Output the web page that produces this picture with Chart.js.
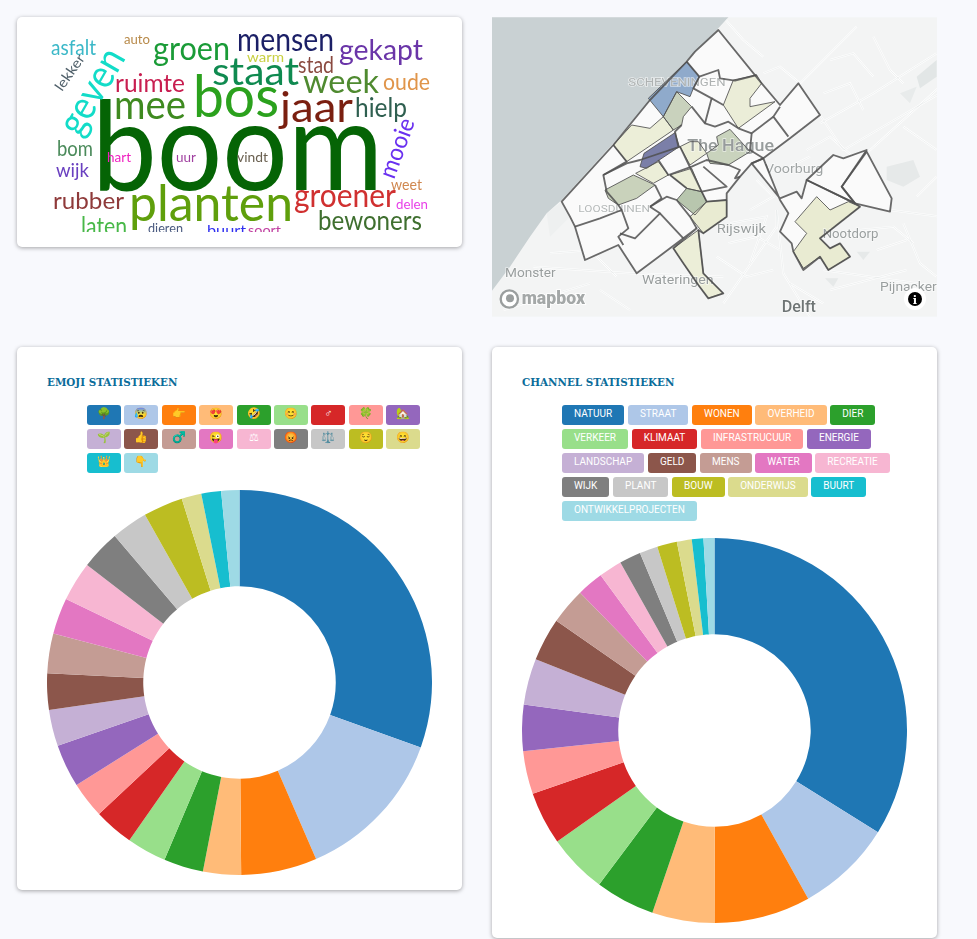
<!DOCTYPE html>
<html>
<head>
<meta charset="utf-8">
<title>Statistieken</title>
<script src="https://cdn.jsdelivr.net/npm/chart.js@4"></script>
<style>
html, body { margin: 0; padding: 0; background: #f8f9fd; overflow: hidden; }
body { width: 977px; height: 939px; position: relative; font-family: Roboto, sans-serif; }
.card { position: absolute; background: #fff; border-radius: 5px; box-shadow: 0 1px 4px rgba(0,0,0,.35); }
.title { position: absolute; left: 30px; top: 28px; font: bold 11.5px "DejaVu Serif", serif; color: #0a6c9a; white-space: nowrap; font-stretch: condensed; }
.chips { position: absolute; display: flex; flex-wrap: wrap; gap: 4px 3.7px; align-content: flex-start; }
.chip { height: 20px; line-height: 18px; padding: 0 12px; border-radius: 3px; color: #fff; font-size: 10px; box-sizing: border-box; white-space: nowrap; }
.emoji { column-gap: 3.4px; }
.emoji .chip { width: 34px; padding: 0; text-align: center; font-size: 11px; }
canvas { position: absolute; }
svg { position: absolute; display: block; }
</style>
</head>
<body>

<div class="card" style="left:17px;top:17px;width:445px;height:230px"></div>
<svg id="cloud" style="left:0;top:0;filter:blur(.35px)" width="480" height="250"></svg>
<svg id="map" style="left:490px;top:10px;filter:blur(.3px)" width="450" height="310" viewBox="0 0 1350 930"></svg>

<div class="card" style="left:17px;top:347px;width:445px;height:543px">
  <div class="title">EMOJI STATISTIEKEN</div>
  <div class="chips emoji" id="emojiChips" style="left:70px;top:58px;width:345px"></div>
  <canvas id="emojiChart" style="left:30px;top:143px"></canvas>
</div>

<div class="card" style="left:492px;top:347px;width:445px;height:591px">
  <div class="title">CHANNEL STATISTIEKEN</div>
  <div class="chips" id="channelChips" style="left:70px;top:58px;width:345px"></div>
  <canvas id="channelChart" style="left:30px;top:191px"></canvas>
</div>

<script>
const sliceColors = ['#1f77b4','#aec7e8','#ff7f0e','#ffbb78','#2ca02c','#98df8a','#d62728','#ff9896','#9467bd','#c5b0d5',
                     '#8c564b','#c49c94','#e377c2','#f7b6d2','#7f7f7f','#c7c7c7','#bcbd22','#dbdb8d','#17becf','#9edae5'];

const emojiLabels = ['🌳','😰','👉','😍','🤣','😊','♂','🍀','🏡','🌱','👍','♂️','😜','⚖','😡','⚖️','😌','😄','👑','👇'];
const emojiValues = [110,47,23,11.5,12,12,12,11,13,11,11,12,11,12,12,11,12,6,6,5.5];

const channelLabels = ['NATUUR','STRAAT','WONEN','OVERHEID','DIER','VERKEER','KLIMAAT','INFRASTRUCUUR','ENERGIE','LANDSCHAP',
                       'GELD','MENS','WATER','RECREATIE','WIJK','PLANT','BOUW','ONDERWIJS','BUURT','ONTWIKKELPROJECTEN'];
const channelValues = [122,29,29,19,18,18,16,13,14,14,13,11,8,7,6.5,5.5,6,4.5,3.5,3.3];

const makeChips = (id, labels) => {
    const box = document.getElementById(id);
    labels.forEach((label, i) => {
        const chip = document.createElement('div');
        chip.className = 'chip';
        chip.style.background = sliceColors[i];
        chip.textContent = label;
        box.appendChild(chip);
    });
};

const makeDoughnut = (id, labels, values) => {
    const canvas = document.getElementById(id);
    canvas.width = 385;
    canvas.height = 385;
    new Chart(canvas.getContext('2d'), {
        type: 'doughnut',
        data: {
            labels: labels,
            datasets: [{ data: values, backgroundColor: sliceColors, borderWidth: 0 }]
        },
        options: {
            responsive: false,
            animation: false,
            cutout: '50%',
            plugins: { legend: { display: false }, tooltip: { enabled: false } }
        }
    });
};

makeChips('emojiChips', emojiLabels);
makeChips('channelChips', channelLabels);
makeDoughnut('emojiChart', emojiLabels, emojiValues);
makeDoughnut('channelChart', channelLabels, channelValues);

// word cloud: word, x, baseline y, font size, width, colour, rotation
const cloudWords = [
    ['boom',92,190,125,291,'#056405',0],['planten',129,221,50,164,'#5f9f0c',0],['bos',193,117,58,86,'#2ba11d',0],
    ['jaar',280,122,42,73,'#7a1f10',0],['staat',212,85,38,87,'#0f8a50',0],['mee',114,119,41,72,'#3f8a20',0],
    ['geven',80,138,40,93,'#12dcc8',-60],['groen',153,60,32,77,'#1a9b37',0],['mensen',237,51,32,97,'#1b1f66',0],
    ['gekapt',339,60,29,84,'#6a35a8',0],['week',303,93,33,76,'#4f8a30',0],['oude',383,90,23,47,'#e0954a',0],
    ['stad',298,73,23,36,'#8a4a40',0],['warm',247,62,14,37,'#c8d040',0],['auto',124,44,13,26,'#b88a4a',0],
    ['asfalt',51,55,21,45,'#3bb8c8',0],['lekker',62,92,14,41,'#50606a',-55],['ruimte',115,92,25,70,'#c81e50',0],
    ['hielp',355,117,27,52,'#2f5f50',0],['bom',57,156,21,36,'#4a8a5a',0],['hart',107,162,14,24,'#f020c0',0],
    ['uur',176,162,14,20,'#a040a0',0],['vindt',237,162,14,31,'#6a6050',0],['wijk',56,177,20,33,'#6a40c0',0],
    ['mooie',394,180,24,62,'#6a30f0',-70],['weet',391,190,15,31,'#d08850',0],['rubber',53,209,24,71,'#8f3a3a',0],
    ['groener',294,207,32,102,'#d03030',0],['delen',396,209,14,32,'#e840e8',0],['bewoners',318,230,26,104,'#3f6f2f',0],
    ['laten',81,235,25,46,'#48b848',0],['dieren',148,233,13,35,'#4a5a80',0],['buurt',207,236,15,39,'#3030f0',0],
    ['soort',248,235,14,33,'#c040a0',0]
];

const NS = 'http://www.w3.org/2000/svg';
const add = (parent, tag, attrs, text) => {
    const el = document.createElementNS(NS, tag);
    for (const k in attrs) el.setAttribute(k, attrs[k]);
    if (text) el.textContent = text;
    parent.appendChild(el);
    return el;
};

const cloud = document.getElementById('cloud');
const clip = add(add(cloud, 'defs', {}), 'clipPath', { id: 'cloudClip' });
add(clip, 'rect', { x: 17, y: 17, width: 445, height: 215 });
const cloudGroup = add(cloud, 'g', { 'clip-path': 'url(#cloudClip)' });
cloudWords.forEach(w => {
    add(cloudGroup, 'text', {
        x: w[1], y: w[2], 'font-family': 'Lato', 'font-size': w[3], fill: w[5],
        textLength: w[4], lengthAdjust: 'spacingAndGlyphs',
        transform: `rotate(${w[6]} ${w[1]} ${w[2]})`
    }, w[0]);
});

// map, drawn as a static background in crop coordinates
const cityAreas = [
    '215,575 370,405 480,270 590,155 615,125 685,60 815,220 870,285 925,220 990,315 900,385 820,445 785,460 750,500 710,550 710,620 640,670 625,660 640,790 700,850 655,865 625,825 580,760 550,715 620,655 580,685 440,790 385,705 285,750 255,650 240,620',
    '785,460 870,565 920,545 935,565 950,510 1095,580 1110,590 990,685 1020,715 1050,700 1080,740 1015,780 990,740 940,780 910,725 905,700 870,665 895,610 870,570 820,445',
    '1055,530 1130,425 1205,565 1200,605 1095,580',
    '950,510 1030,435 1060,445 1130,420 1055,530 1095,580'
];
const mapFills = [
    ['#8faacb','590,155 628,200 610,235 600,260 560,245 520,320 475,265'],
    ['#c9d2bd','560,245 605,290 580,320 575,345 550,360 520,320'],
    ['#eceed8','370,405 425,345 480,355 520,320 550,360 410,455'],
    ['#7b7fa8','555,368 568,410 470,475 450,470 462,430'],
    ['#ebedd8','800,195 815,220 780,265 780,290 855,275 745,355 700,285 730,210'],
    ['#c9d3bd','720,358 780,425 715,465 660,460 650,430 685,405 680,380'],
    ['#eceed8','570,410 600,395 625,395 650,430 600,465'],
    ['#eceed8','437,490 505,455 535,495 490,520'],
    ['#c9d2bb','345,540 430,495 495,525 440,565 385,585 355,565'],
    ['#eceed8','540,495 605,475 635,545 590,535'],
    ['#b8c6ae','590,535 635,545 650,575 615,615 560,570'],
    ['#e9ebd2','650,575 710,570 710,620 640,670 600,620'],
    ['#eceed8','625,660 640,790 700,850 655,865 625,825 580,760 550,715'],
    ['#e9ebd2','980,560 1020,600 1075,575 1110,590 990,685 1020,715 1050,700 1080,740 1015,780 990,740 940,775 910,725 950,670 915,635']
];
const mapLines = [
    '590,155 628,200 685,180 690,205 735,212 800,195',
    '628,200 610,235 665,265 645,340',
    '665,265 700,285',
    '605,290 645,340 675,350 715,335 745,355',
    '575,345 555,365 565,410',
    '870,290 850,320 895,380',
    '850,320 785,370 745,355',
    '820,445 780,420 785,370',
    '340,495 410,460 450,450 570,410',
    '370,405 410,455 340,495 350,545 385,585 395,600',
    '505,450 535,495 605,470 650,450 715,465 750,480 735,505 750,500',
    '570,410 635,545 710,530 640,470',
    '635,545 650,575 710,570',
    '480,590 530,560 560,570 600,620 620,655',
    '480,590 510,610 435,685 390,670',
    '510,610 580,685',
    '495,525 515,565 480,590',
    '540,495 590,535',
    '255,650 330,625 395,600 415,655 385,680 400,705'
];
const mapRoads = [
    '820,190 870,170 930,220 1100,50', '990,315 1060,420 1350,250', '1130,430 1350,230',
    '1200,600 1350,620', '700,880 860,650 860,600', '860,600 880,790 960,920', '130,770 420,790 700,800',
    '1000,780 1350,830', '40,900 300,820', '990,340 1150,250 1340,130', '1020,840 1250,780', '180,730 300,720 380,800',
    '720,640 830,620 780,760', '950,420 1020,380 1100,450', '700,22 760,90 820,140', '1240,640 1290,760 1340,800',
    '715,700 800,680 870,720', '680,740 770,800 850,780', '1020,150 1090,130 1150,200', '1150,80 1200,180 1240,220',
    '1000,250 1080,220 1120,300', '830,490 900,470 960,440', '1110,660 1210,650 1270,700', '1160,720 1250,690',
    '900,820 1000,880', '330,840 420,900', '780,600 850,560 800,510', '1240,350 1340,420', '1280,560 1340,500'
];
const mapBlocks = [
    ['#e6e9e9','1190,470 1270,450 1290,500 1240,530 1190,510'],
    ['#e2e6e6','1280,200 1340,150 1340,200 1290,235'],
    ['#e8ebeb','1230,250 1280,230 1260,280'],
    ['#e6e9e9','1005,805 1045,805 1030,830'],
    ['#e6e9e9','1100,725 1140,725 1120,750'],
    ['#eef0f0','170,610 215,575 240,620 180,680']
];
// text, x, baseline, size, width, colour, weight
const mapLabels = [
    ['SCHEVENINGEN',415,228,30,292,'#aeb2b2',400],['LOOSDUINEN',265,605,29,215,'#b4b8b8',400],['The Hague',592,422,52,260,'#979c9c',500],
    ['Voorburg',825,488,40,175,'#a0a5a5',400],['Rijswijk',680,670,40,148,'#999e9e',400],['Nootdorp',998,684,40,167,'#999e9e',400],
    ['Monster',45,802,39,152,'#999e9e',400],['Wateringen',456,822,39,215,'#999e9e',400],['Delft',875,906,50,103,'#6f7575',500],
    ['Pijnacker',1170,843,38,170,'#999e9e',400]
];

const map = document.getElementById('map');
const mapClip = add(add(map, 'defs', {}), 'clipPath', { id: 'mapClip' });
add(mapClip, 'rect', { x: 6, y: 22, width: 1335, height: 898 });
const mapGroup = add(map, 'g', { 'clip-path': 'url(#mapClip)' });
add(mapGroup, 'rect', { x: 0, y: 0, width: 1350, height: 930, fill: '#f3f4f4' });
mapBlocks.forEach(b => add(mapGroup, 'polygon', { points: b[1], fill: b[0] }));
mapRoads.forEach(p => add(mapGroup, 'polyline', { points: p, fill: 'none', stroke: '#fff', 'stroke-width': 6 }));
mapRoads.forEach(p => add(mapGroup, 'polyline', { points: p, fill: 'none', stroke: '#dfe2e2', 'stroke-width': 1.5 }));
add(mapGroup, 'polygon', { points: '0,0 725,0 715,22 680,60 590,150 480,270 370,400 215,570 170,610 120,680 60,770 0,850', fill: '#c9d1d3' });
cityAreas.forEach(p => add(mapGroup, 'polygon', { points: p, fill: '#fafafa' }));
mapFills.forEach(f => add(mapGroup, 'polygon', { points: f[1], fill: f[0] }));
mapLabels.forEach(l => add(mapGroup, 'text', {
    x: l[1], y: l[2], 'font-family': 'Roboto', 'font-weight': l[6], 'font-size': l[3], fill: l[5], textLength: l[4], lengthAdjust: 'spacingAndGlyphs',
    stroke: '#fff', 'stroke-width': 4, 'stroke-opacity': .6, 'paint-order': 'stroke'
}, l[0]));
const lineStyle = { fill: 'none', stroke: '#505050', 'stroke-width': 5.5, 'stroke-opacity': .85, 'stroke-linejoin': 'round' };
mapLines.forEach(p => add(mapGroup, 'polyline', { points: p, ...lineStyle }));
mapFills.forEach(f => add(mapGroup, 'polygon', { points: f[1], ...lineStyle, 'stroke-width': 3 }));
cityAreas.forEach(p => add(mapGroup, 'polygon', { points: p, ...lineStyle }));
add(mapGroup, 'circle', { cx: 58, cy: 867, r: 26, fill: '#fff', stroke: '#9a9e9e', 'stroke-width': 7 });
add(mapGroup, 'circle', { cx: 60, cy: 865, r: 12, fill: '#9a9e9e' });
add(mapGroup, 'text', { x: 95, y: 882, 'font-family': 'Roboto', 'font-weight': 900, 'font-size': 56, fill: '#a4a8a8', stroke: '#fff', 'stroke-width': 5, 'paint-order': 'stroke', textLength: 190, lengthAdjust: 'spacingAndGlyphs' }, 'mapbox');
add(mapGroup, 'circle', { cx: 1275, cy: 867, r: 33, fill: '#fff' });
add(mapGroup, 'circle', { cx: 1275, cy: 867, r: 21, fill: '#000' });
add(mapGroup, 'text', { x: 1275, y: 881, 'text-anchor': 'middle', 'font-family': 'DejaVu Serif', 'font-weight': 700, 'font-size': 34, fill: '#fff' }, 'i');
</script>
</body>
</html>
